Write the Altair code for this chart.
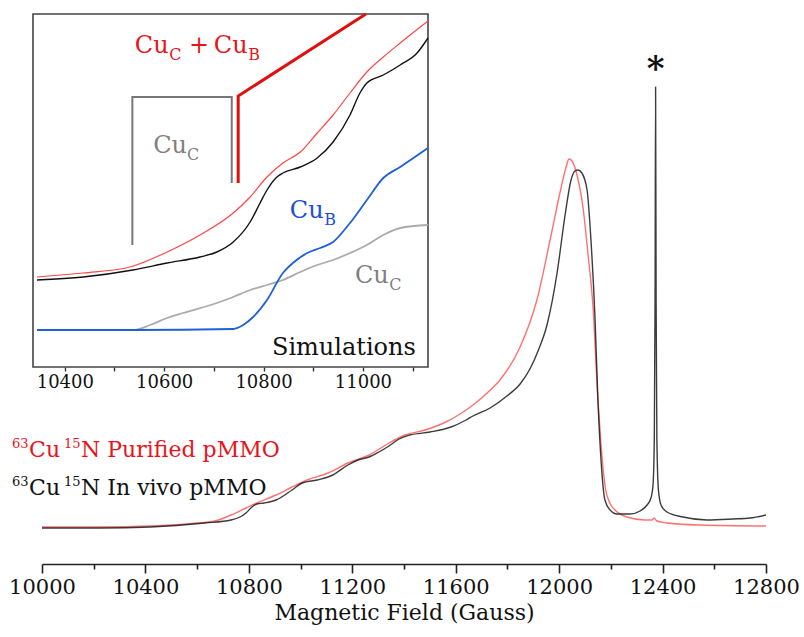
import altair as alt
import pandas as pd

FONT = "DejaVu Serif"

# ---------------- main spectrum (field in Gauss, intensity in arbitrary units) -------------
PURIFIED_FIELD = [10000, 10224, 10418, 10599, 10669, 10731, 10789, 10831, 10905, 10967,
                  11025, 11106, 11183, 11265, 11342, 11404, 11481, 11562, 11617, 11667,
                  11717, 11771, 11849, 11914, 11965, 12003, 12027, 12038, 12050, 12069,
                  12092, 12112, 12131, 12150, 12162, 12177, 12196, 12216, 12262, 12332,
                  12359, 12367, 12378, 12417, 12545, 12800]
PURIFIED_INT = [73, 73, 74, 77, 79, 85, 92, 97, 105, 113,
                120, 127, 137, 145, 157, 165, 170, 178, 186, 195,
                206, 220, 253, 300, 360, 407, 433, 441, 439, 425,
                393, 345, 293, 200, 155, 115, 97, 90, 83, 80,
                80, 82, 79, 77, 75, 74]

INVIVO_FIELD = [10000, 10224, 10418, 10630, 10731, 10766, 10789, 10812, 10831, 10859,
                10905, 10967, 11006, 11064, 11125, 11183, 11222, 11265, 11303, 11342,
                11381, 11423, 11501, 11582, 11640, 11667, 11733, 11798, 11849, 11887,
                11920, 11953, 11992, 12023, 12046, 12061, 12073, 12088, 12108, 12123,
                12139, 12150, 12162, 12177, 12197, 12224, 12274, 12313, 12340, 12355,
                12363, 12368, 12371, 12373, 12375, 12378, 12384, 12394, 12417, 12479,
                12572, 12672, 12738, 12800]
INVIVO_INT = [72, 72, 73, 77, 80, 83, 87, 93, 96, 97,
              100, 110, 117, 120, 125, 135, 140, 143, 148, 154,
              161, 165, 168, 173, 180, 184, 192, 204, 216, 231,
              250, 275, 327, 385, 420, 429, 430, 427, 410, 360,
              280, 200, 140, 100, 90, 86, 86, 89, 95, 102,
              115, 160, 300, 513, 300, 160, 110, 95, 88, 83,
              80, 81, 82, 85]

MAIN_TICKS = list(range(10000, 12801, 200))

# ---------------- inset ----------------
INSET_RED_FIELD = [10344, 10437, 10531, 10606, 10672, 10739, 10773, 10807, 10839, 10874,
                   10908, 10940, 10974, 11008, 11041, 11075, 11131]
INSET_RED_INT = [90, 94, 100, 115, 132, 154, 170, 190, 204, 215,
                 234, 252, 274, 295, 310, 324, 346]

INSET_BLACK_FIELD = [10344, 10437, 10537, 10606, 10672, 10706, 10739, 10773, 10793, 10807,
                     10827, 10839, 10874, 10908, 10940, 10974, 10994, 11008, 11041, 11075,
                     11109, 11131]
INSET_BLACK_INT = [87, 90, 97, 104, 110, 115, 125, 145, 164, 177,
                   190, 194, 200, 209, 225, 252, 274, 284, 292, 302,
                   314, 329]

SIM_CUB_FIELD = [10344, 10537, 10739, 10759, 10779, 10807, 10839, 10859, 10888, 10914,
                 10940, 10974, 11008, 11041, 11075, 11131]
SIM_CUB_INT = [37, 37, 38, 42, 50, 67, 94, 104, 114, 119,
               125, 144, 167, 189, 200, 219]

SIM_CUC_FIELD = [10344, 10537, 10572, 10606, 10638, 10706, 10739, 10773, 10807, 10839,
                 10874, 10908, 10940, 10974, 11008, 11041, 11075, 11131]
SIM_CUC_INT = [37, 37, 42, 49, 54, 64, 70, 77, 82, 87,
               95, 102, 107, 114, 122, 132, 139, 142]

STICK_CUC_FIELD = [10536, 10536, 10736, 10736]
STICK_CUC_INT = [122, 270, 270, 184]
STICK_CUCB_FIELD = [10749, 10749, 11006]
STICK_CUCB_INT = [184, 271, 353]

INSET_DOMAIN = [10336, 11131]
INSET_INT_DOMAIN = [0, 353]
INSET_TICKS = list(range(10400, 11101, 100))

RED_TXT = "#e8141c"
BLACK_TXT = "#111111"
GRAY_TXT = "#7f7f7f"
BLUE_TXT = "#1a4fd6"

# ---------------- annotation texts (text, field, intensity, colour) ----------------
MAIN_BIG_TEXT = [("Cu", 9950, 143, RED_TXT), ("N Purified pMMO", 10151, 143, RED_TXT),
                 ("Cu", 9950, 105, BLACK_TXT), ("N In vivo pMMO", 10151, 105, BLACK_TXT)]
MAIN_SUP_TEXT = [("63", 9884, 152, RED_TXT), ("15", 10085, 152, RED_TXT),
                 ("63", 9884, 114, BLACK_TXT), ("15", 10085, 114, BLACK_TXT)]
ASTERISK = [("*", 12373, 520)]

INSET_BIG_TEXT = [("Cu", 10541, 314, RED_TXT), ("Cu", 10700, 314, RED_TXT),
                  ("Cu", 10578, 214, GRAY_TXT), ("Cu", 10853, 149, BLUE_TXT),
                  ("Cu", 10984, 84, GRAY_TXT), ("Simulations", 10817, 12, BLACK_TXT)]
INSET_PLUS = [("+", 10670, 314, RED_TXT)]
INSET_SUB_TEXT = [("C", 10610, 307, RED_TXT), ("B", 10769, 307, RED_TXT),
                  ("C", 10646, 207, GRAY_TXT), ("B", 10922, 142, BLUE_TXT),
                  ("C", 11053, 77, GRAY_TXT)]

# ---------------- encodings ----------------
main_axis = alt.Axis(
    values=MAIN_TICKS, format="d",
    labelExpr="datum.value % 400 === 0 ? datum.label : ''",
    tickSize={"condition": {"test": "datum.value % 400 === 0", "value": 9}, "value": 5},
    labelFont=FONT, labelFontSize=21, labelColor="#111111", labelPadding=3,
    labelFlush=False, labelOverlap=False,
    titleFont=FONT, titleFontSize=22, titleFontWeight="normal", titleColor="#111111",
    titlePadding=5, domainColor="#222222", domainWidth=1.6, tickColor="#222222",
    tickWidth=1.6, grid=False, orient="bottom",
)
X_MAIN = alt.X("G:Q", scale=alt.Scale(domain=[10000, 12800], nice=False, zero=False),
               axis=main_axis, title="Magnetic Field (Gauss)")
Y_MAIN = alt.Y("I:Q", scale=alt.Scale(domain=[36, 590], nice=False, zero=False), axis=None)

inset_axis = alt.Axis(
    values=INSET_TICKS, format="d", orient="bottom", offset=-197,
    labelExpr="datum.value % 200 === 0 ? datum.label : ''",
    tickSize=4, tickColor="#333333", tickWidth=1.4, domain=False, grid=False,
    labelFont=FONT, labelFontSize=18, labelColor="#111111", labelPadding=2,
    labelFlush=False, labelOverlap=False,
)
X_IN = alt.X("G:Q", scale=alt.Scale(domain=INSET_DOMAIN, range=[-9, 386], nice=False, zero=False),
             axis=inset_axis, title="")
Y_IN = alt.Y("I:Q", scale=alt.Scale(domain=INSET_INT_DOMAIN, range=[357, 4], nice=False, zero=False),
             axis=None)


def line(field, inten, color, width, x, y, interp="monotone", opacity=1.0):
    df = pd.DataFrame({"G": field, "I": inten, "k": list(range(len(field)))})
    return alt.Chart(df).mark_line(color=color, strokeWidth=width, interpolate=interp,
                                   opacity=opacity).encode(x=x, y=y, order="k:Q")


def texts(rows, size, x, y, weight="normal", align="left"):
    df = pd.DataFrame(rows, columns=["t", "G", "I", "c"])
    return alt.Chart(df).mark_text(font=FONT, fontSize=size, align=align, baseline="alphabetic",
                                   fontWeight=weight).encode(
        x=x, y=y, text="t:N", color=alt.Color("c:N", scale=None))


main = alt.layer(
    line(PURIFIED_FIELD, PURIFIED_INT, "#ff6262", 1.4, X_MAIN, Y_MAIN, opacity=0.9),
    line(INVIVO_FIELD, INVIVO_INT, "#1a1a1a", 1.4, X_MAIN, Y_MAIN, opacity=0.85),
    texts(MAIN_BIG_TEXT, 22, X_MAIN, Y_MAIN),
    texts(MAIN_SUP_TEXT, 13, X_MAIN, Y_MAIN),
    alt.Chart(pd.DataFrame(ASTERISK, columns=["t", "G", "I"])).mark_text(
        font=FONT, fontSize=34, fontWeight="bold", align="center", baseline="alphabetic",
        color="#111111").encode(x=X_MAIN, y=Y_MAIN, text="t:N"),
)

box_df = pd.DataFrame({"G": [INSET_DOMAIN[0]], "G2": [INSET_DOMAIN[1]],
                       "I": [INSET_INT_DOMAIN[0]], "I2": [INSET_INT_DOMAIN[1]]})
box = alt.Chart(box_df).mark_rect(filled=False, stroke="#444444", strokeWidth=1.6).encode(
    x=X_IN, x2="G2:Q", y=Y_IN, y2="I2:Q")

inset = alt.layer(
    box,
    line(SIM_CUC_FIELD, SIM_CUC_INT, "#ababab", 1.8, X_IN, Y_IN),
    line(SIM_CUB_FIELD, SIM_CUB_INT, "#1f5fd8", 1.8, X_IN, Y_IN),
    line(INSET_RED_FIELD, INSET_RED_INT, "#ff4545", 1.2, X_IN, Y_IN),
    line(INSET_BLACK_FIELD, INSET_BLACK_INT, "#111111", 1.4, X_IN, Y_IN),
    line(STICK_CUC_FIELD, STICK_CUC_INT, "#777777", 2.0, X_IN, Y_IN, interp="linear"),
    line(STICK_CUCB_FIELD, STICK_CUCB_INT, "#e01010", 3.0, X_IN, Y_IN, interp="linear"),
    texts(INSET_BIG_TEXT, 24, X_IN, Y_IN),
    texts(INSET_PLUS, 24, X_IN, Y_IN, align="center"),
    texts(INSET_SUB_TEXT, 16, X_IN, Y_IN),
)

chart = alt.layer(main, inset).resolve_scale(x="independent", y="independent").properties(
    width=724, height=554,
    padding={"left": 42, "right": 38, "top": 10, "bottom": 73},
    autosize=alt.AutoSizeParams(type="none"),
).configure_view(stroke=None)

chart.save("out.html", embed_options={"renderer": "svg", "actions": False})
